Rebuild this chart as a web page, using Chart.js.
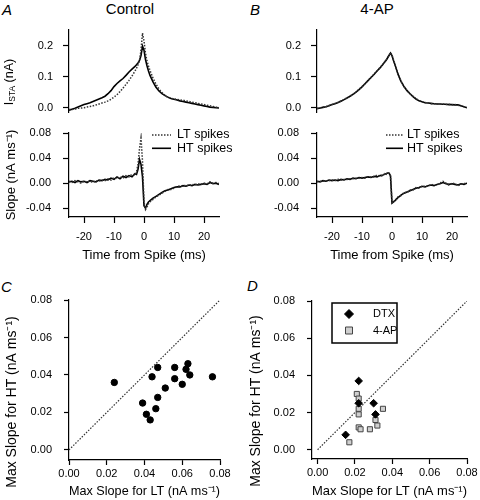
<!DOCTYPE html>
<html>
<head>
<meta charset="utf-8">
<script src="https://cdn.jsdelivr.net/npm/chart.js@4.4.0/dist/chart.umd.min.js"></script>
<style>
  body { margin: 0; width: 480px; height: 500px; overflow: hidden; background: #fff; position: relative; font-family: 'Liberation Sans', Arial, sans-serif; }
  .box { position: absolute; }
  .lbl { position: absolute; color: #000; line-height: 1; }
  .panel { font-style: italic; font-size: 15px; }
  .title { font-size: 15px; transform: translateX(-50%); }
</style>
</head>
<body>
<div class="lbl panel" style="left:2px;top:2px">A</div>
<div class="lbl panel" style="left:250px;top:2px">B</div>
<div class="lbl panel" style="left:1px;top:279px">C</div>
<div class="lbl panel" style="left:247px;top:278px">D</div>
<div class="lbl title" style="left:130px;top:1px">Control</div>
<div class="lbl title" style="left:377px;top:1px">4-AP</div>

<div class="box" style="left:0;top:24px;width:224px;height:89px"><canvas id="aTop"></canvas></div>
<div class="box" style="left:248px;top:24px;width:224px;height:89px"><canvas id="bTop"></canvas></div>
<div class="box" style="left:0;top:127px;width:236px;height:140px"><canvas id="aBot"></canvas></div>
<div class="box" style="left:248px;top:127px;width:224px;height:140px"><canvas id="bBot"></canvas></div>
<div class="box" style="left:0;top:292px;width:236px;height:208px"><canvas id="cPlot"></canvas></div>
<div class="box" style="left:244px;top:293px;width:236px;height:207px"><canvas id="dPlot"></canvas></div>

<script>
const FONT = "'Liberation Sans', Arial, sans-serif";
Chart.defaults.font.family = FONT;
Chart.defaults.color = '#000';
Chart.defaults.animation = false;

// time axis of the spike-triggered averages (ms)
const tMs = [-25,-24,-23,-22,-21,-20,-19,-18,-17,-16,-15,-14,-13,-12,-11,-10,-9,-8,-7,-6,-5,-4,-3,
  -2.5,-2,-1.5,-1,-0.5,0,0.5,1,1.5,2,
  3,4,5,6,7,8,9,10,11,12,13,14,15,16,17,18,19,20,21,22,23,24,25];

// I_STA (nA), control
const staCtrlLT = [-0.006,-0.006,-0.004,-0.002,-0.001,0.000,0.002,0.004,0.006,0.009,0.012,0.015,0.018,0.022,0.027,0.034,0.042,0.052,0.063,0.075,0.088,0.102,0.118,
  0.127,0.138,0.152,0.185,0.240,0.215,0.175,0.150,0.134,0.120,
  0.095,0.076,0.060,0.049,0.040,0.033,0.030,0.028,0.027,0.025,0.024,0.022,0.020,0.018,0.016,0.014,0.012,0.010,0.008,0.006,0.004,0.002,0.001];
const staCtrlHT = [-0.008,-0.005,-0.002,0.002,0.006,0.010,0.013,0.016,0.020,0.024,0.028,0.032,0.037,0.045,0.055,0.068,0.078,0.086,0.094,0.104,0.115,0.124,0.133,
  0.138,0.144,0.152,0.168,0.198,0.185,0.155,0.135,0.118,0.104,
  0.083,0.066,0.054,0.045,0.039,0.034,0.030,0.027,0.025,0.022,0.020,0.018,0.016,0.014,0.012,0.010,0.008,0.006,0.004,0.002,0.001,0.000,-0.001];

// I_STA (nA), 4-AP
const staApLT = [-0.002,-0.001,0.002,0.003,0.007,0.010,0.014,0.017,0.022,0.026,0.032,0.037,0.044,0.050,0.059,0.068,0.077,0.088,0.097,0.108,0.118,0.129,0.140,
  0.147,0.153,0.161,0.169,0.177,0.169,0.153,0.139,0.124,0.109,
  0.086,0.068,0.056,0.045,0.037,0.029,0.023,0.019,0.017,0.015,0.013,0.013,0.012,0.011,0.012,0.010,0.011,0.009,0.010,0.008,0.006,0.003,0.001];
const staApHT = [-0.003,-0.001,0.001,0.003,0.006,0.010,0.013,0.017,0.021,0.026,0.031,0.037,0.043,0.050,0.058,0.067,0.077,0.087,0.097,0.107,0.118,0.128,0.140,
  0.146,0.152,0.160,0.168,0.176,0.168,0.152,0.138,0.123,0.108,
  0.085,0.068,0.055,0.045,0.036,0.028,0.022,0.019,0.016,0.015,0.014,0.013,0.012,0.012,0.011,0.011,0.010,0.010,0.009,0.009,0.006,0.003,0.000];

// slope (nA/ms), control
const slopeCtrlLT = [0.003,0.001,0.004,0.002,0.000,0.003,0.002,0.003,0.001,0.004,0.003,0.005,0.004,0.007,0.005,0.009,0.007,0.010,0.008,0.012,0.010,0.014,0.013,
  0.018,0.030,0.055,0.072,0.035,-0.030,-0.042,-0.038,-0.033,-0.030,
  -0.026,-0.022,-0.019,-0.016,-0.013,-0.010,-0.010,-0.008,-0.006,-0.004,-0.005,-0.003,-0.004,-0.002,-0.003,-0.001,-0.002,0.000,-0.001,0.002,0.000,0.001,-0.001];
const slopeCtrlHT = [0.002,0.003,0.001,0.004,0.002,0.003,0.001,0.004,0.003,0.002,0.005,0.004,0.006,0.005,0.008,0.006,0.010,0.007,0.011,0.009,0.012,0.010,0.015,
  0.014,0.022,0.038,0.030,0.010,-0.036,-0.040,-0.034,-0.030,-0.028,
  -0.024,-0.021,-0.018,-0.015,-0.012,-0.011,-0.009,-0.007,-0.006,-0.006,-0.004,-0.005,-0.003,-0.004,-0.002,-0.003,-0.002,-0.001,-0.002,0.001,-0.001,0.000,-0.002];

// slope (nA/ms), 4-AP
const slopeApLT = [0.002,0.003,0.003,0.004,0.004,0.005,0.004,0.006,0.005,0.006,0.006,0.007,0.007,0.008,0.008,0.009,0.008,0.010,0.010,0.010,0.013,0.011,0.012,
  0.015,0.014,0.017,0.015,0.011,-0.031,-0.031,-0.027,-0.026,-0.022,
  -0.020,-0.015,-0.015,-0.011,-0.011,-0.007,-0.008,-0.005,-0.005,-0.005,-0.002,-0.003,-0.003,0.000,0.003,0.000,-0.003,0.000,-0.001,-0.004,-0.002,-0.001,0.001];
const slopeApHT = [0.003,0.002,0.004,0.003,0.005,0.004,0.005,0.004,0.006,0.005,0.007,0.006,0.008,0.007,0.009,0.008,0.009,0.010,0.009,0.011,0.010,0.012,0.013,
  0.014,0.015,0.016,0.016,0.012,-0.032,-0.030,-0.028,-0.025,-0.023,
  -0.019,-0.016,-0.014,-0.012,-0.010,-0.008,-0.007,-0.005,-0.006,-0.004,-0.003,-0.004,-0.002,-0.001,0.001,-0.001,-0.002,-0.001,-0.002,-0.003,-0.001,-0.002,0.000];

// max slopes per cell (nA/ms)
const ctrlMaxLT = [0.024,0.047,0.044,0.056,0.063,0.062,0.064,0.076,0.056,0.060,0.051,0.047,0.039,0.046,0.041,0.043];
const ctrlMaxHT = [0.036,0.044,0.039,0.044,0.046,0.043,0.040,0.039,0.038,0.035,0.033,0.028,0.025,0.022,0.019,0.016];
const dtxMaxLT = [0.022,0.022,0.030,0.031,0.015];
const dtxMaxHT = [0.037,0.025,0.025,0.019,0.008];
const apMaxLT = [0.021,0.022,0.022,0.022,0.022,0.023,0.028,0.031,0.032,0.035,0.017];
const apMaxHT = [0.030,0.0275,0.022,0.019,0.012,0.011,0.011,0.016,0.013,0.022,0.004];
const unity = [0, 0.08];

const staTicks = [0, 0.1, 0.2];
const slopeTicks = [-0.04, 0, 0.04, 0.08];
const timeTicks = [-20, -10, 0, 10, 20];
const maxTicks = [0, 0.02, 0.04, 0.06, 0.08];

const xy = (xs, ys) => xs.map((x, i) => ({x, y: ys[i]}));

function axis(min, max, ticks, digits, o) {
  return {
    type: 'linear', min, max,
    display: o.display !== false,
    border: {display: true, color: '#000', width: 1.2},
    grid: {drawOnChartArea: false, drawTicks: true, tickLength: o.tl || 6, tickColor: '#000', tickWidth: 1.2},
    ticks: {padding: o.pad, font: {size: 11}, color: '#000', maxRotation: 0, autoSkip: false,
      callback: v => v.toFixed(digits)},
    afterBuildTicks: s => { s.ticks = ticks.map(v => ({value: v})); },
    afterFit: s => {
      if (o.w) s.width = o.w;
      if (o.h) s.height = o.h;
      // keep the plot area where the layout padding puts it
      s.paddingTop = s.paddingBottom = s.paddingLeft = s.paddingRight = 0;
    },
    title: o.title ? {display: true, text: o.title, font: {size: 13}, padding: {top: 4, bottom: o.tb}} : {display: false}
  };
}

// rotated label drawn in runs (for sub/superscripts)
function rotLabel(x, y, runs) {
  return {
    id: 'rotLabel',
    afterDraw(chart) {
      const ctx = chart.ctx;
      ctx.save();
      ctx.translate(x, y);
      ctx.rotate(-Math.PI / 2);
      ctx.fillStyle = '#000';
      ctx.textBaseline = 'middle';
      let total = 0;
      runs.forEach(r => { ctx.font = r.size + 'px ' + FONT; total += ctx.measureText(r.text).width; });
      let cx = -total / 2;
      runs.forEach(r => {
        ctx.font = r.size + 'px ' + FONT;
        ctx.fillText(r.text, cx, r.dy || 0);
        cx += ctx.measureText(r.text).width;
      });
      ctx.restore();
    }
  };
}

// line-sample legend inside the plot
function lineLegend(x, y, sample, gap, rowH) {
  return {
    id: 'lineLegend',
    afterDraw(chart) {
      const {ctx, chartArea: a} = chart;
      ctx.save();
      ctx.font = '12.5px ' + FONT;
      ctx.textBaseline = 'middle';
      chart.data.datasets.forEach((ds, i) => {
        const yy = a.top + y + i * rowH, xx = a.left + x;
        ctx.strokeStyle = ds.borderColor;
        ctx.lineWidth = ds.borderWidth;
        ctx.setLineDash(ds.borderDash || []);
        ctx.beginPath(); ctx.moveTo(xx, yy); ctx.lineTo(xx + sample, yy); ctx.stroke();
        ctx.setLineDash([]);
        ctx.fillStyle = '#000';
        ctx.fillText(ds.label, xx + sample + gap, yy);
      });
      ctx.restore();
    }
  };
}

// boxed marker legend for panel D
function boxLegend(x, y, w, h) {
  return {
    id: 'boxLegend',
    afterDraw(chart) {
      const {ctx, chartArea: a} = chart;
      const bx = a.left + x, by = a.top + y;
      ctx.save();
      ctx.fillStyle = '#fff';
      ctx.fillRect(bx, by, w, h);
      ctx.strokeStyle = '#000'; ctx.lineWidth = 1.5;
      ctx.strokeRect(bx, by, w, h);
      ctx.font = '11px ' + FONT;
      ctx.textBaseline = 'middle';
      chart.data.datasets.filter(ds => ds.pointStyle).forEach((ds, i) => {
        const mx = bx + 17, my = by + 11 + i * 16.5;
        ctx.fillStyle = ds.backgroundColor; ctx.strokeStyle = ds.borderColor; ctx.lineWidth = ds.borderWidth;
        ctx.beginPath();
        if (ds.pointStyle === 'rectRot') {
          ctx.moveTo(mx - 4.5, my); ctx.lineTo(mx, my - 4.5); ctx.lineTo(mx + 4.5, my); ctx.lineTo(mx, my + 4.5); ctx.closePath();
        } else {
          ctx.rect(mx - 3.5, my - 3.5, 7, 7);
        }
        ctx.fill(); ctx.stroke();
        ctx.fillStyle = '#000';
        ctx.fillText(ds.label, bx + 41, my);
      });
      ctx.restore();
    }
  };
}

const lt = (label, data) => ({label, data, borderColor: '#333', borderWidth: 1.5, borderDash: [1.5, 1.5], pointRadius: 0, tension: 0});
const ht = (label, data) => ({label, data, borderColor: '#000', borderWidth: 1.6, pointRadius: 0, tension: 0});

function staChart(id, ltData, htData, plugins) {
  return new Chart(document.getElementById(id), {
    type: 'line',
    data: {datasets: [lt('LT spikes', xy(tMs, ltData)), ht('HT spikes', xy(tMs, htData))]},
    options: {
      responsive: true, maintainAspectRatio: false,
      layout: {padding: {top: 6, right: 5, left: 0, bottom: 0}},
      plugins: {legend: {display: false}, tooltip: {enabled: false}},
      scales: {
        x: {type: 'linear', min: -25, max: 25, display: false},
        y: axis(-0.017, 0.25, staTicks, 1, {w: 69, pad: 10})
      }
    },
    plugins
  });
}

function slopeChart(id, ltData, htData, yTitle, padRight, legend) {
  return new Chart(document.getElementById(id), {
    type: 'line',
    data: {datasets: [lt('LT spikes', xy(tMs, ltData)), ht('HT spikes', xy(tMs, htData))]},
    options: {
      responsive: true, maintainAspectRatio: false,
      layout: {padding: {top: 6, right: padRight, left: 0, bottom: 0}},
      plugins: {legend: {display: false}, tooltip: {enabled: false}},
      scales: {
        x: axis(-25, 25, timeTicks, 0, {h: 50, pad: 7, title: 'Time from Spike (ms)', tb: 4}),
        y: axis(-0.054, 0.08, slopeTicks, 2, {w: 69, pad: 12, title: yTitle, tb: 4})
      }
    },
    plugins: [legend]
  });
}

staChart('aTop', staCtrlLT, staCtrlHT, [rotLabel(10, 58, [
  {text: 'I', size: 12.5}, {text: 'STA', size: 8.5, dy: 3}, {text: ' (nA)', size: 12.5}])]);
staChart('bTop', staApLT, staApHT, []);
slopeChart('aBot', slopeCtrlLT, slopeCtrlHT, 'Slope (nA ms\u207B\u00B9)', 17, lineLegend(83, 2, 19, 6, 13.3));
slopeChart('bBot', slopeApLT, slopeApHT, '', 5, lineLegend(69, 2, 17, 4, 13.3));

const unityDs = {data: xy(unity, unity), showLine: true, borderColor: '#333', borderWidth: 1.2, borderDash: [1.5, 1.5], pointRadius: 0};

new Chart(document.getElementById('cPlot'), {
  type: 'scatter',
  data: {datasets: [
    {data: xy(ctrlMaxLT, ctrlMaxHT), backgroundColor: '#000', borderColor: '#000', pointRadius: 3.2},
    unityDs
  ]},
  options: {
    responsive: true, maintainAspectRatio: false,
    layout: {padding: {top: 8, right: 16, left: 0, bottom: 0}},
    plugins: {legend: {display: false}, tooltip: {enabled: false}},
    scales: {
      x: axis(0, 0.08, maxTicks, 2, {h: 40, tl: 5, pad: 2, title: 'Max Slope for LT (nA ms\u207B\u00B9)', tb: 0.5}),
      y: axis(-0.0054, 0.08, maxTicks, 2, {w: 69, tl: 5, pad: 12})
    }
  },
  plugins: [rotLabel(12, 110, [{text: 'Max Slope for HT (nA ms\u207B\u00B9)', size: 14}])]
});

new Chart(document.getElementById('dPlot'), {
  type: 'scatter',
  data: {datasets: [
    {label: 'DTX', data: xy(dtxMaxLT, dtxMaxHT), pointStyle: 'rectRot', pointRadius: 3.8, backgroundColor: '#000', borderColor: '#000', borderWidth: 1},
    {label: '4-AP', data: xy(apMaxLT, apMaxHT), pointStyle: 'rect', pointRadius: 3.6, backgroundColor: '#cfcfcf', borderColor: '#444', borderWidth: 1},
    unityDs
  ]},
  options: {
    responsive: true, maintainAspectRatio: false,
    layout: {padding: {top: 8, right: 13, left: 0, bottom: 0}},
    plugins: {legend: {display: false}, tooltip: {enabled: false}},
    scales: {
      x: axis(-0.003, 0.08, maxTicks, 2, {h: 41, tl: 5, pad: 2, title: 'Max Slope for LT (nA ms\u207B\u00B9)', tb: 0.5}),
      y: axis(-0.005, 0.08, maxTicks, 2, {w: 68, tl: 5, pad: 12})
    }
  },
  plugins: [rotLabel(12, 108, [{text: 'Max Slope for HT (nA ms\u207B\u00B9)', size: 14}]), boxLegend(20, 2, 65, 40)]
});
</script>
</body>
</html>
